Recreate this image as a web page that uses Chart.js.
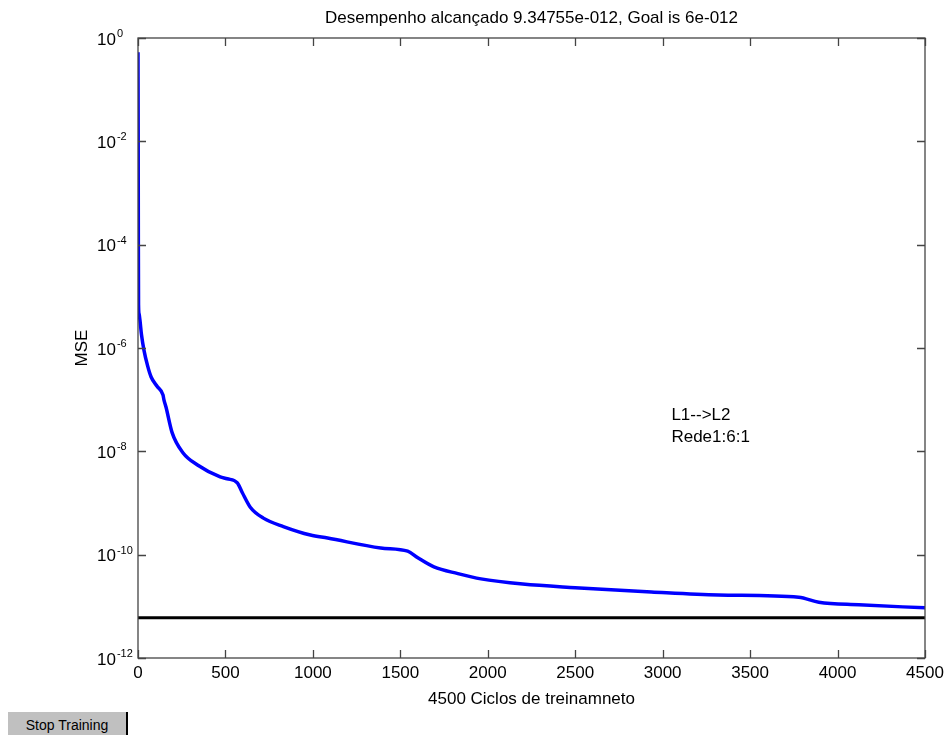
<!DOCTYPE html>
<html>
<head>
<meta charset="utf-8">
<title>Desempenho</title>
<script src="https://cdn.jsdelivr.net/npm/chart.js@4.4.1/dist/chart.umd.min.js"></script>
<style>
  html, body { margin: 0; padding: 0; background: #fff; }
  #wrap { position: relative; width: 948px; height: 735px; overflow: hidden; }
  #stopBtn {
    position: absolute; left: 8px; top: 712px; width: 118px; height: 30px;
    background: #c0c0c0; border-right: 2px solid #000;
    font: 14px "Liberation Sans", Arial, sans-serif; color: #000;
    text-align: center; line-height: 26px;
  }
</style>
</head>
<body>
<div id="wrap">
  <canvas id="perfChart" width="948" height="735"></canvas>
  <div id="stopBtn">Stop Training</div>
</div>
<script>
// training epochs and MSE
const epochs = [0, 1, 2, 3, 6, 11, 20, 34, 55, 75, 110, 143, 148, 160, 195, 258, 338, 470, 510, 568,
  596, 642, 717, 831, 986, 1084, 1388, 1542, 1600, 1692, 1829, 1961, 2200, 2500, 2935, 3319, 3778,
  3893, 4122, 4500];
const mse = [0.53, 1.7e-2, 1.1e-4, 7e-6, 4.6e-6, 3.5e-6, 1.8e-6, 9.1e-7, 4.5e-7, 2.75e-7, 1.8e-7,
  1.23e-7, 1.0e-7, 7.2e-8, 2.3e-8, 9.3e-9, 5.5e-9, 3.2e-9, 2.95e-9, 2.45e-9,
  1.6e-9, 8.3e-10, 5.1e-10, 3.5e-10, 2.4e-10, 2.1e-10, 1.35e-10, 1.17e-10, 8.7e-11, 5.8e-11,
  4.3e-11, 3.4e-11, 2.7e-11, 2.3e-11, 1.9e-11, 1.66e-11, 1.5e-11, 1.2e-11, 1.07e-11, 9.35e-12];
const goal = 6e-12;

// axis ticks
const xTicks = [0, 500, 1000, 1500, 2000, 2500, 3000, 3500, 4000, 4500];
const yExps = [0, -2, -4, -6, -8, -10, -12];

// text note inside the axes (data coords)
const noteLines = ['L1-->L2', 'Rede1:6:1'];
const noteAt = { x: 3050, y: 5e-8 };

const FONT = '"Liberation Sans", Arial, sans-serif';
Chart.defaults.font.family = FONT;
Chart.defaults.color = '#000';

// MATLAB style box: inward ticks on all sides, 10^n labels, note text
const boxPlugin = {
  id: 'matlabBox',
  afterDatasetsDraw(chart) {
    const { ctx, chartArea: a, scales: { x, y } } = chart;
    ctx.save();
    ctx.strokeStyle = '#444';
    ctx.lineWidth = 1.3;
    ctx.strokeRect(a.left, a.top, a.right - a.left, a.bottom - a.top);

    ctx.beginPath();
    xTicks.forEach(v => {
      const px = Math.round(x.getPixelForValue(v)) + 0.5;
      ctx.moveTo(px, a.bottom); ctx.lineTo(px, a.bottom - 8);
      ctx.moveTo(px, a.top); ctx.lineTo(px, a.top + 8);
    });
    yExps.forEach(e => {
      const py = Math.round(y.getPixelForValue(Math.pow(10, e))) + 0.5;
      ctx.moveTo(a.left, py); ctx.lineTo(a.left + 8, py);
      ctx.moveTo(a.right, py); ctx.lineTo(a.right - 8, py);
    });
    ctx.stroke();

    // y tick labels: 10 with raised exponent
    ctx.fillStyle = '#000';
    ctx.textAlign = 'left';
    yExps.forEach(e => {
      const py = y.getPixelForValue(Math.pow(10, e));
      ctx.font = '17px ' + FONT;
      ctx.textBaseline = 'middle';
      ctx.fillText('10', 97, py + 2);
      const w = ctx.measureText('10').width;
      ctx.font = '11px ' + FONT;
      ctx.textBaseline = 'alphabetic';
      ctx.fillText(String(e), 97 + w + 1, py - 1);
    });

    // note
    ctx.font = '17px ' + FONT;
    ctx.textBaseline = 'middle';
    const nx = x.getPixelForValue(noteAt.x);
    const ny = y.getPixelForValue(noteAt.y);
    noteLines.forEach((t, i) => ctx.fillText(t, nx, ny + i * 22));
    ctx.restore();
  }
};

new Chart(document.getElementById('perfChart'), {
  type: 'line',
  data: {
    datasets: [
      {
        label: 'MSE',
        data: epochs.map((e, i) => ({ x: e, y: mse[i] })),
        borderColor: '#0000ff',
        borderWidth: 3.5,
        pointRadius: 0,
        cubicInterpolationMode: 'monotone',
        fill: false
      },
      {
        label: 'Goal',
        data: [{ x: xTicks[0], y: goal }, { x: xTicks[xTicks.length - 1], y: goal }],
        borderColor: '#000',
        borderWidth: 3,
        pointRadius: 0,
        fill: false
      }
    ]
  },
  options: {
    responsive: false,
    animation: false,
    layout: { padding: { left: 0, right: 23, top: 0, bottom: 0 } },
    plugins: {
      legend: { display: false },
      tooltip: { enabled: false },
      title: {
        display: true,
        fullSize: false,
        text: 'Desempenho alcançado 9.34755e-012, Goal is 6e-012',
        font: { size: 17, weight: 'normal' },
        color: '#000',
        padding: { top: 8, bottom: 9.6 }
      }
    },
    scales: {
      x: {
        type: 'linear',
        min: 0,
        max: 4500,
        afterBuildTicks: s => { s.ticks = xTicks.map(v => ({ value: v })); },
        ticks: {
          font: { size: 17 }, color: '#000', padding: 5, maxRotation: 0,
          callback: v => String(v)
        },
        grid: { display: false, drawTicks: false },
        border: { display: false },
        title: {
          display: true,
          text: '4500 Ciclos de treinamneto',
          font: { size: 17 },
          color: '#000',
          padding: { top: 0, bottom: 25 }
        },
        afterFit: s => { s.height = 77; s.paddingLeft = 0; s.paddingRight = 0; }
      },
      y: {
        type: 'logarithmic',
        min: 1e-12,
        max: 1,
        ticks: { display: false },
        grid: { display: false, drawTicks: false },
        border: { display: false },
        title: {
          display: true,
          text: 'MSE',
          font: { size: 17 },
          color: '#000',
          padding: { top: 72, bottom: 0 }
        },
        afterFit: s => { s.width = 138; }
      }
    }
  },
  plugins: [boxPlugin]
});
</script>
</body>
</html>
